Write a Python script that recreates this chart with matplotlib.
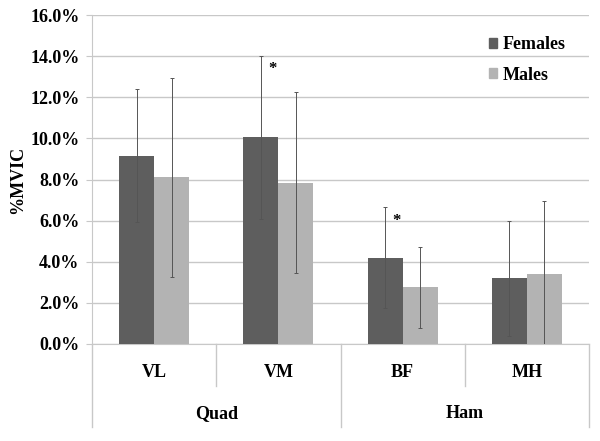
import matplotlib
matplotlib.use("Agg")
import matplotlib.pyplot as plt
from matplotlib.patches import Patch
from matplotlib.ticker import FuncFormatter
import numpy as np

muscles = ["VL", "VM", "BF", "MH"]
groups = ["Quad", "Ham"]
females = [9.15, 10.05, 4.20, 3.20]
females_sd = [3.23, 3.95, 2.45, 2.80]
males = [8.10, 7.85, 2.75, 3.40]
males_sd = [4.85, 4.40, 1.97, 3.55]
signif = [False, True, True, False]

c_f = "#5e5e5e"
c_m = "#b3b3b3"
grid_c = "#c8c8c8"
err_c = "#555555"

plt.rcParams['font.family'] = ['Liberation Serif', 'DejaVu Serif']
plt.rcParams['font.weight'] = 'bold'
fs = 13

fig = plt.figure(figsize=(6, 4.41), dpi=100)
ax = fig.add_axes([92/600, 1-344/441, (589-92)/600, (344-15)/441])

x = np.arange(len(muscles))
w = 0.282
ax.bar(x - w/2, females, w, color=c_f, zorder=3, label="Females")
ax.bar(x + w/2, males, w, color=c_m, zorder=3, label="Males")
ax.errorbar(x - w/2, females, yerr=females_sd, fmt='none', ecolor=err_c,
            elinewidth=0.7, capsize=1.5, capthick=0.7, zorder=4)
ax.errorbar(x + w/2, males, yerr=males_sd, fmt='none', ecolor=err_c,
            elinewidth=0.7, capsize=1.5, capthick=0.7, zorder=4)

for i, s in enumerate(signif):
    if s:
        ax.text(x[i] - w/2 + 0.09, females[i] + females_sd[i] - 0.65, "*",
                ha='center', va='center', fontsize=12, fontweight='bold', zorder=5)

ax.set_xlim(-0.5, len(muscles) - 0.5)
ax.set_ylim(0, 16)
ax.set_yticks(np.arange(0, 16.1, 2))
ax.yaxis.set_major_formatter(FuncFormatter(lambda v, p: f"{v:.1f}%"))
ax.yaxis.grid(True, color=grid_c, linewidth=1.0, zorder=0)
ax.set_axisbelow(True)
for sp in ["top", "right"]:
    ax.spines[sp].set_visible(False)
ax.spines["left"].set_color(grid_c)
ax.spines["bottom"].set_color(grid_c)
ax.tick_params(axis='y', length=4, color=grid_c, pad=5, labelsize=fs)
ax.set_xticks([])
for lbl in ax.get_yticklabels():
    lbl.set_fontweight('bold')
ax.set_ylabel("%MVIC", fontsize=fs, fontweight='bold', labelpad=3)

# multi-level category axis
tr = ax.get_xaxis_transform()
short_y = -0.128
long_y = -0.252
for xs in [0.5, 2.5]:
    ax.plot([xs, xs], [0, short_y], transform=tr, color=grid_c, lw=1.0, clip_on=False)
for xs in [-0.5, 1.5, 3.5]:
    ax.plot([xs, xs], [0, long_y], transform=tr, color=grid_c, lw=1.0, clip_on=False)
for i, m in enumerate(muscles):
    ax.text(x[i], -0.088, m, transform=tr, ha='center', va='center',
            fontsize=fs, fontweight='bold')
for gi, g in enumerate(groups):
    ax.text(gi*2 + 0.5, -0.21, g, transform=tr, ha='center', va='center',
            fontsize=fs, fontweight='bold')

handles = [Patch(color=c_f, label="Females"), Patch(color=c_m, label="Males")]
leg = ax.legend(handles=handles, loc='upper right', bbox_to_anchor=(0.985, 0.985),
                frameon=False, handlelength=0.45, handleheight=0.45,
                handletextpad=0.3, labelspacing=0.75, prop={'size': fs, 'weight': 'bold'})

fig.savefig("out.png", dpi=100)
